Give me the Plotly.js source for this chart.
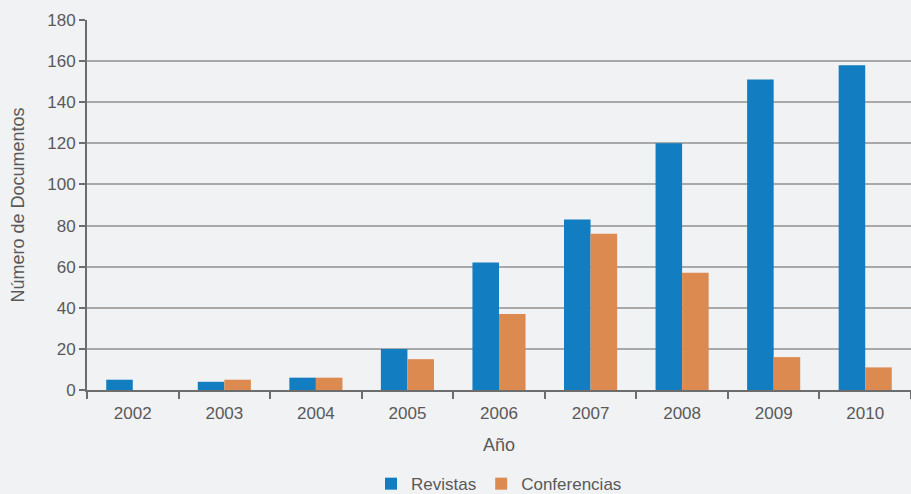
<!DOCTYPE html>
<html><head><meta charset="utf-8">
<script src="https://cdn.plot.ly/plotly-3.0.1.min.js"></script>
<style>html,body{margin:0;padding:0;background:#f1f2f4;}</style>
</head><body>
<div id="chart" style="width:911px;height:494px;"></div>
<script>
const years = ['2002','2003','2004','2005','2006','2007','2008','2009','2010'];
const revistas = [5, 4, 6, 20, 62, 83, 120, 151, 158];
const conferencias = [0, 5, 6, 15, 37, 76, 57, 16, 11];
const yTicks = [0,20,40,60,80,100,120,140,160,180];

const font = "'Liberation Sans', Arial, sans-serif";
const traces = [
  {type:'bar', name:'Revistas', x:years, y:revistas, marker:{color:'#127dc1'}},
  {type:'bar', name:'Conferencias', x:years, y:conferencias, marker:{color:'#dc8a50'}}
];
const layout = {
  width:911, height:494,
  paper_bgcolor:'#f1f2f4', plot_bgcolor:'#f1f2f4',
  margin:{l:87, r:0, t:20, b:104},
  font:{family:font, size:17, color:'#595959'},
  barmode:'group', bargap:0.42, bargroupgap:0,
  xaxis:{type:'category', tickson:'boundaries', ticks:'outside', ticklen:7, tickcolor:'#6d6d6d', tickwidth:2,
    showline:true, linecolor:'#6d6d6d', linewidth:2, showgrid:false, automargin:false, ticklabelstandoff:7,
    title:{text:'Año', standoff:16, font:{size:18}}, tickfont:{size:17}},
  yaxis:{range:[0,180], tickvals:yTicks, ticks:'outside', ticklen:6, tickcolor:'#6d6d6d', tickwidth:2,
    showline:true, linecolor:'#6d6d6d', linewidth:2, gridcolor:'#a9a9a9', gridwidth:1.5, zeroline:false, automargin:false,
    title:{text:'Número de Documentos', standoff:18, font:{size:18}}, tickfont:{size:17}},
  legend:{orientation:'h', x:0.5, xanchor:'center', xref:'paper', y:0.02, yanchor:'middle', yref:'container',
    font:{size:17}, itemwidth:30, traceorder:'normal', tracegroupgap:0},
  showlegend:true
};
Plotly.newPlot('chart', traces, layout, {displayModeBar:false});
</script>
</body></html>
